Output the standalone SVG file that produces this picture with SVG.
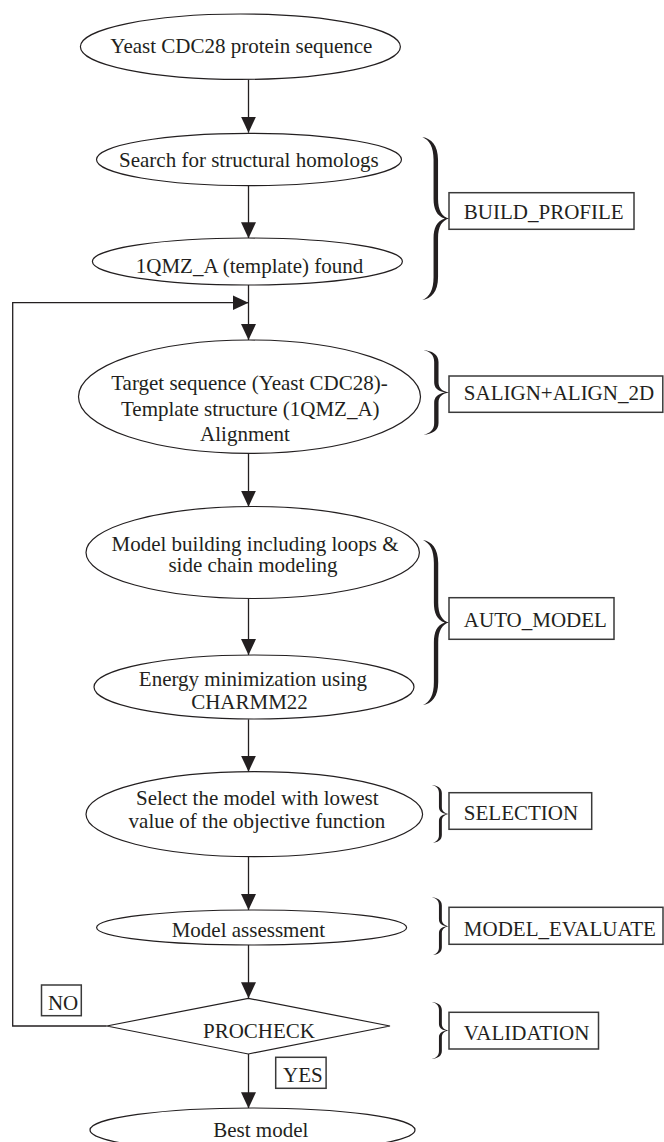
<svg xmlns="http://www.w3.org/2000/svg" width="664" height="1142" viewBox="0 0 664 1142">
<defs>
<style>
.n{fill:#fff;stroke:#231f20;stroke-width:1.2}
.b{fill:#fff;stroke:#3a3a3a;stroke-width:1.5}
.t{font-family:"Liberation Serif","Times New Roman",serif;font-size:21px;fill:#231f20;text-anchor:middle}
.l{font-family:"Liberation Serif","Times New Roman",serif;font-size:21px;fill:#231f20}
.c{fill:none;stroke:#231f20;stroke-width:1.3}
.br{fill:#231f20}
</style>
<marker id="ah" markerUnits="userSpaceOnUse" markerWidth="16" markerHeight="16" viewBox="0 0 16 16" refX="16" refY="8" orient="auto">
<path d="M0,0.5 L16,8 L0,15.5 Z" fill="#231f20"/>
</marker>
<path id="brace" d="M0,0 C10,1 17.5,5 17.5,14 L17.5,38 C17.5,45 22,49 30,50 C22,51 17.5,55 17.5,62 L17.5,86 C17.5,95 10,99 0,100 C8,98 12.5,94 12.5,86 L12.5,62 C12.5,56 16,51.5 25,50 C16,48.5 12.5,44 12.5,38 L12.5,14 C12.5,6 8,2 0,0 Z"/>
</defs>
<rect width="664" height="1142" fill="#fff"/>

<g id="connectors">
<line class="c" x1="248.5" y1="79.5" x2="248.5" y2="132.7" marker-end="url(#ah)"/>
<line class="c" x1="248.5" y1="185.7" x2="248.5" y2="238.3" marker-end="url(#ah)"/>
<line class="c" x1="248.5" y1="285" x2="248.5" y2="340" marker-end="url(#ah)"/>
<line class="c" x1="248.5" y1="453.3" x2="248.5" y2="506.7" marker-end="url(#ah)"/>
<line class="c" x1="248.5" y1="598.5" x2="248.5" y2="655" marker-end="url(#ah)"/>
<line class="c" x1="248.5" y1="719.3" x2="248.5" y2="771.7" marker-end="url(#ah)"/>
<line class="c" x1="248.5" y1="856.7" x2="248.5" y2="910" marker-end="url(#ah)"/>
<line class="c" x1="248.5" y1="945" x2="248.5" y2="998.3" marker-end="url(#ah)"/>
<line class="c" x1="248.5" y1="1054" x2="248.5" y2="1108.3" marker-end="url(#ah)"/>
<polyline class="c" points="106.7,1026 12.7,1026 12.7,302.7 248.5,302.7" marker-end="url(#ah)"/>
</g>

<g id="n1"><ellipse class="n" cx="240.4" cy="46.7" rx="160" ry="32.7"/><text class="t" x="241.4" y="53.3">Yeast CDC28 protein sequence</text></g>
<g id="n2"><ellipse class="n" cx="249" cy="159.5" rx="152.5" ry="26.2"/><text class="t" x="248.8" y="166.7">Search for structural homologs</text></g>
<g id="n3"><ellipse class="n" cx="247.4" cy="261.5" rx="155" ry="23.5"/><text class="t" x="249.5" y="272.7">1QMZ_A (template) found</text></g>
<g id="n4"><ellipse class="n" cx="249.5" cy="396.7" rx="171" ry="56.7"/>
<text class="t" x="249.5" y="390">Target sequence (Yeast CDC28)-</text>
<text class="t" x="250.3" y="415.5">Template structure (1QMZ_A)</text>
<text class="t" x="245" y="441">Alignment</text></g>
<g id="n5"><ellipse class="n" cx="252.7" cy="552.5" rx="166.7" ry="46"/>
<text class="t" x="255" y="550.7">Model building including loops &amp;</text>
<text class="t" x="253" y="572">side chain modeling</text></g>
<g id="n6"><ellipse class="n" cx="254" cy="687" rx="160" ry="32"/>
<text class="t" x="253" y="686">Energy minimization using</text>
<text class="t" x="249.5" y="709.3">CHARMM22</text></g>
<g id="n7"><ellipse class="n" cx="254.3" cy="814.2" rx="168.3" ry="42.5"/>
<text class="t" x="257.3" y="805">Select the model with lowest</text>
<text class="t" x="256.9" y="828.3">value of the objective function</text></g>
<g id="n8"><ellipse class="n" cx="251.6" cy="927.5" rx="155" ry="17.5"/><text class="t" x="248.4" y="936.7">Model assessment</text></g>
<g id="n9"><polygon class="n" points="248.3,998.3 390,1026 248.3,1054 106.7,1026"/><text class="t" x="259" y="1038.3">PROCHECK</text></g>
<g id="n10"><ellipse class="n" cx="252.5" cy="1130" rx="162.5" ry="22"/><text class="t" x="260.8" y="1137">Best model</text></g>

<g id="no"><rect class="b" x="41.5" y="985" width="39.8" height="30.7"/><text class="l" x="47.9" y="1010">NO</text></g>
<g id="yes"><rect class="b" x="275.7" y="1057.3" width="50.4" height="31"/><text class="l" x="283" y="1081.7">YES</text></g>

<g id="build_profile">
<use href="#brace" class="br" transform="translate(422.3,137) scale(0.9,1.63)"/>
<rect class="b" x="449" y="192.7" width="185" height="36.6"/><text class="l" x="463.8" y="219">BUILD_PROFILE</text></g>
<g id="salign">
<use href="#brace" class="br" transform="translate(423.3,350) scale(0.87,0.85)"/>
<rect class="b" x="449" y="376" width="213.8" height="36.3"/><text class="l" x="463.8" y="400">SALIGN+ALIGN_2D</text></g>
<g id="auto_model">
<use href="#brace" class="br" transform="translate(423,540) scale(0.87,1.65)"/>
<rect class="b" x="449" y="597.7" width="165" height="41.6"/><text class="l" x="463.8" y="627.3">AUTO_MODEL</text></g>
<g id="selection">
<use href="#brace" class="br" transform="translate(431.7,785) scale(0.58,0.58)"/>
<rect class="b" x="449" y="792.7" width="142.7" height="36.6"/><text class="l" x="463.8" y="820">SELECTION</text></g>
<g id="model_evaluate">
<use href="#brace" class="br" transform="translate(431.7,897.3) scale(0.58,0.58)"/>
<rect class="b" x="449" y="907.3" width="214" height="37"/><text class="l" x="463.8" y="936">MODEL_EVALUATE</text></g>
<g id="validation">
<use href="#brace" class="br" transform="translate(431.7,1002) scale(0.58,0.57)"/>
<rect class="b" x="449" y="1012.3" width="149.5" height="36.7"/><text class="l" x="463.8" y="1040">VALIDATION</text></g>
</svg>
